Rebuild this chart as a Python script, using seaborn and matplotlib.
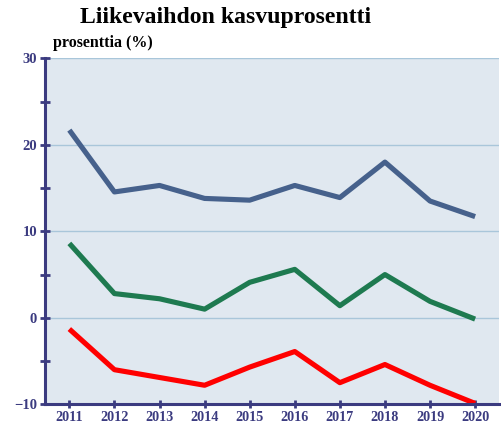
import matplotlib
matplotlib.use("Agg")
import matplotlib.pyplot as plt
import seaborn as sns
import pandas as pd
from matplotlib.ticker import MultipleLocator

years = [2011, 2012, 2013, 2014, 2015, 2016, 2017, 2018, 2019, 2020]
series_a = [21.7, 14.55, 15.3, 13.8, 13.6, 15.3, 13.9, 18.0, 13.5, 11.7]
series_b = [8.6, 2.8, 2.2, 1.0, 4.1, 5.6, 1.4, 5.0, 1.9, -0.15]
series_c = [-1.3, -6.0, -6.9, -7.8, -5.7, -3.9, -7.5, -5.4, -7.8, -9.9]
series_names = ["A", "B", "C"]
title = "Liikevaihdon kasvuprosentti"
ylabel = "prosenttia (%)"

df = pd.DataFrame({
    "year": years * 3,
    "value": series_a + series_b + series_c,
    "series": [series_names[0]] * len(years) + [series_names[1]] * len(years) + [series_names[2]] * len(years),
})

sns.set_style("white")
plt.rcParams["font.family"] = ["Liberation Serif", "DejaVu Serif"]
plt.rcParams["axes.unicode_minus"] = True

navy = "#3b3b80"
fig = plt.figure(figsize=(5.02, 4.28), dpi=100)
ax = fig.add_axes([45 / 502, (428 - 404.3) / 428, 454 / 502, 346 / 428])
ax.set_facecolor("#e0e8f0")

sns.lineplot(data=df, x="year", y="value", hue="series",
             palette={"A": "#46618c", "B": "#1e7a50", "C": "#ff0000"},
             linewidth=3.7, legend=False, ax=ax, zorder=3)
for ln in ax.lines:
    ln.set_solid_capstyle("butt")
    ln.set_clip_on(False)

ax.set_xlim(2010.46, 2020.53)
ax.set_ylim(-10, 30)
ax.yaxis.set_major_locator(MultipleLocator(10))
ax.yaxis.set_minor_locator(MultipleLocator(5))
ax.set_xticks(years)
ax.set_xticklabels([str(y) for y in years])

for s in ["top", "right"]:
    ax.spines[s].set_visible(False)
for s in ["left", "bottom"]:
    ax.spines[s].set_color(navy)
    ax.spines[s].set_linewidth(2.2)
    ax.spines[s].set_zorder(4)

ax.grid(axis="y", which="major", color="#a9c6da", linewidth=1.0, zorder=1)
ax.grid(axis="x", visible=False)

ax.tick_params(axis="both", which="both", direction="inout", color=navy, width=2.0,
               labelcolor=navy, left=True, bottom=True)
ax.tick_params(axis="y", which="major", length=7.5, pad=2, labelsize=10.5)
ax.tick_params(axis="y", which="minor", length=7.5)
ax.tick_params(axis="x", which="major", length=6, pad=1.5, labelsize=10.2)
for lbl in ax.get_xticklabels() + ax.get_yticklabels():
    lbl.set_fontweight("bold")

ax.set_xlabel("")
ax.set_ylabel("")

fig.text(226 / 502, 1 - 18 / 428, title, ha="center", va="center",
         fontsize=17.1, fontweight="bold", color="black")
fig.text(53 / 502, 1 - 43 / 428, ylabel, ha="left", va="center",
         fontsize=11.5, fontweight="bold", color="black")

fig.savefig("out.png", dpi=100)
